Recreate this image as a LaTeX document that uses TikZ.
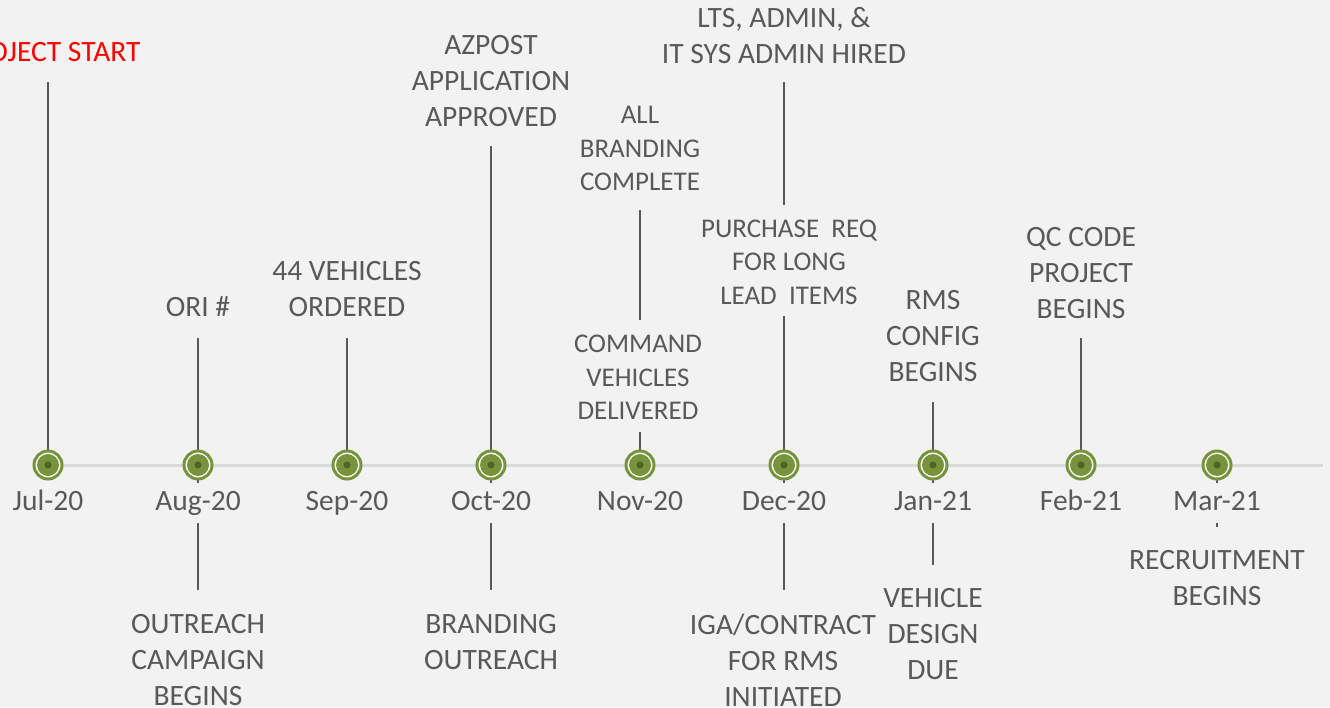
\documentclass[tikz,border=0pt]{standalone}
\usepackage{fontspec}
\setmainfont{Carlito}
\definecolor{bg}{HTML}{F2F2F2}
\definecolor{txt}{HTML}{595959}
\definecolor{axisc}{HTML}{D9D9D9}
\definecolor{mk}{HTML}{77933C}
\definecolor{mkd}{HTML}{4F6228}
\definecolor{redtxt}{HTML}{FF0000}
\begin{document}
\begin{tikzpicture}[x=1pt,y=-1pt,
  big/.style={font=\fontsize{29.5}{36}\selectfont},
  small/.style={font=\fontsize{27}{33.5}\selectfont},
  lab/.style={align=center, inner sep=0pt, text=txt},
  month/.style={lab, big, anchor=base, fill=bg, text height=20pt, text depth=6pt, inner xsep=4pt, inner ysep=7pt},
  stem/.style={draw=txt, line width=2pt},
  axis/.style={draw=axisc, line width=3pt},
  marker/.style={circle, minimum size=28pt, inner sep=0pt, draw=mk, line width=3pt, fill=white,
    path picture={\fill[mk] (path picture bounding box.center) circle (11pt);
                  \fill[mkd] (path picture bounding box.center) circle (3.5pt);}}
]
\useasboundingbox[fill=bg] (0,0) rectangle (1330,707);

% marker positions
\coordinate (p1) at (48,465);
\coordinate (p2) at (198,465);
\coordinate (p3) at (347,465);
\coordinate (p4) at (491,465);
\coordinate (p5) at (640,465);
\coordinate (p6) at (784,465);
\coordinate (p7) at (933,465);
\coordinate (p8) at (1081,465);
\coordinate (p9) at (1217,465);
\coordinate (axend) at (1323,465);

% stem ends
\coordinate (t1) at (48,82);
\coordinate (t2) at (198,338);
\coordinate (t3) at (347,338);
\coordinate (t4) at (491,146);
\coordinate (t5) at (640,432);
\coordinate (t5a) at (640,210);
\coordinate (t5b) at (640,320);
\coordinate (t6) at (784,316);
\coordinate (t6a) at (784,82);
\coordinate (t6b) at (784,205);
\coordinate (t7) at (933,402);
\coordinate (t8) at (1081,338);
\coordinate (b2) at (198,590);
\coordinate (b4) at (491,590);
\coordinate (b6) at (784,590);
\coordinate (b7) at (933,565);
\coordinate (b9) at (1217,527);

\draw[axis] (p1) -- (axend);

\draw[stem] (t1) -- (p1);
\draw[stem] (t2) -- (b2);
\draw[stem] (t3) -- (p3);
\draw[stem] (t4) -- (b4);
\draw[stem] (t5) -- (p5);
\draw[stem] (t5a) -- (t5b);
\draw[stem] (t6) -- (b6);
\draw[stem] (t6a) -- (t6b);
\draw[stem] (t7) -- (b7);
\draw[stem] (t8) -- (p8);
\draw[stem] (p9) -- (b9);

\foreach \i in {1,...,9} {\node[marker] (m\i) at (p\i) {};}

\node[month] (d1) at (48,510) {Jul-20};
\node[month] (d2) at (198,510) {Aug-20};
\node[month] (d3) at (347,510) {Sep-20};
\node[month] (d4) at (491,510) {Oct-20};
\node[month] (d5) at (640,510) {Nov-20};
\node[month] (d6) at (784,510) {Dec-20};
\node[month] (d7) at (933,510) {Jan-21};
\node[month] (d8) at (1081,510) {Feb-21};
\node[month] (d9) at (1217,510) {Mar-21};

% labels above
\node[lab, big, text=redtxt] (l1) at (49,52) {PROJECT START};
\node[lab, big] (l2) at (198,307) {ORI \#};
\node[lab, big] (l3) at (347,289.5) {44 VEHICLES\\ORDERED};
\node[lab, big] (l4) at (491,81) {AZPOST\\APPLICATION\\APPROVED};
\node[lab, small] (l5a) at (640,148.5) {ALL\\BRANDING\\COMPLETE};
\node[lab, small] (l5) at (638,377.5) {COMMAND\\VEHICLES\\DELIVERED};
\node[lab, big] (l6a) at (784,36) {LTS, ADMIN, \&\\IT SYS ADMIN HIRED};
\node[lab, small] (l6) at (789,262) {PURCHASE\ \ REQ\\FOR LONG\\LEAD\ \ ITEMS};
\node[lab, big] (l7) at (933,336) {RMS\\CONFIG\\BEGINS};
\node[lab, big] (l8) at (1081,273) {QC CODE\\PROJECT\\BEGINS};

% labels below
\node[lab, big] (u2) at (198,660) {OUTREACH\\CAMPAIGN\\BEGINS};
\node[lab, big] (u4) at (491,642) {BRANDING\\OUTREACH};
\node[lab, big] (u6) at (783,660) {IGA/CONTRACT\\FOR RMS\\INITIATED};
\node[lab, big] (u7) at (933,634) {VEHICLE\\DESIGN\\DUE};
\node[lab, big] (u9) at (1217,578) {RECRUITMENT\\BEGINS};
\end{tikzpicture}
\end{document}
